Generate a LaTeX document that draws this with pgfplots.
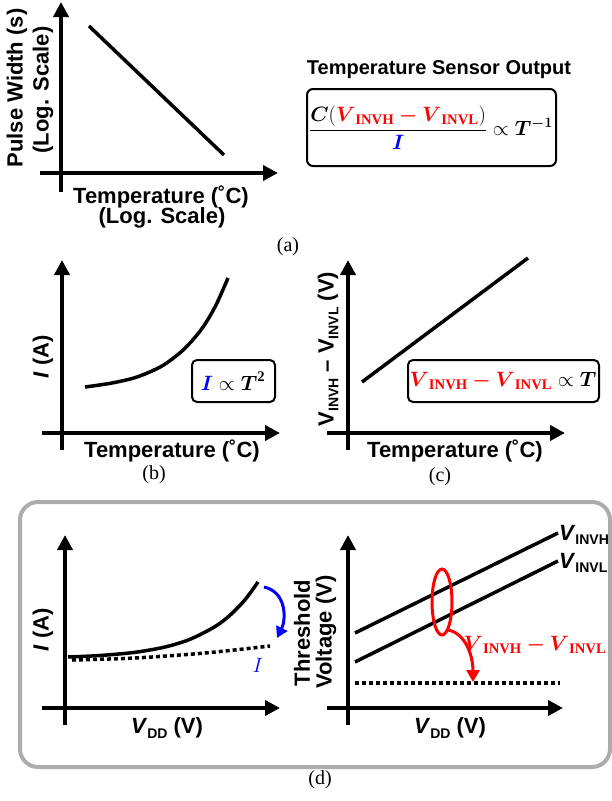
\documentclass[border=0pt]{standalone}
\usepackage{amsmath}
\usepackage{pgfplots}
\pgfplotsset{compat=1.18}
\usepackage{fontspec}
\usetikzlibrary{arrows.meta}
\setmainfont{Liberation Serif}
\newfontfamily\lab{Liberation Sans}
\newcommand\labf{\lab\bfseries\fontsize{22}{24}\selectfont}
\newcommand\sub[1]{\raisebox{-0.22em}{\fontsize{14}{14}\selectfont #1}}
\newcommand\bv{\boldsymbol{V}}
\newcommand\mf{\fontsize{21}{25}\selectfont}

\pgfplotsset{
  sch/.style={axis lines=middle, x=1pt, y=1pt, xtick=\empty, ytick=\empty,
    clip=false, anchor=south west, enlargelimits=false,
    axis line style={line width=4pt, -{Triangle[length=15pt,width=15pt]}}},
  crv/.style={line width=3.5pt, black, mark=none},
  dot/.style={line width=3.5pt, black, mark=none, dash pattern=on 4pt off 3pt},
}

\begin{document}
\begin{tikzpicture}[x=1pt,y=1pt]
\path[use as bounding box] (0,0) rectangle (612,-801);

% (a) pulse width vs temperature
\begin{axis}[sch, at={(40pt,-192pt)}, xmin=-21, xmax=217, ymin=-19, ymax=171]
\addplot[crv] coordinates {(28,147) (163,18)};
\end{axis}
\node[font=\labf, rotate=90] at (17,-88) {Pulse Width (s)};
\node[font=\labf, rotate=90] at (43,-90) {(Log. Scale)};
\node[font=\labf] at (161,-197) {Temperature (˚C)};
\node[font=\labf] at (162,-218) {(Log. Scale)};
\node[font=\lab\bfseries\fontsize{20}{22}\selectfont] at (439,-70) {Temperature Sensor Output};
\draw[line width=2pt, rounded corners=6pt] (307,-89) rectangle (556,-166);
\node[font=\mf] at (431,-128) {$\dfrac{\boldsymbol{C}(\color{red}\bv_{\mathbf{INVH}}\boldsymbol{-}\bv_{\mathbf{INVL}}\color{black})}{\color{blue}\boldsymbol{I}}\propto\boldsymbol{T}^{\boldsymbol{-1}}$};
\node[font=\fontsize{20}{22}\selectfont] at (288,-247) {(a)};

% (b) current vs temperature
\begin{axis}[sch, at={(42pt,-450pt)}, xmin=-20, xmax=218, ymin=-17, ymax=173]
\addplot[crv, smooth] coordinates {(23,46) (50,50) (75,56) (100,67) (120,82) (135,98) (145,112) (155,130) (166,155)};
\end{axis}
\node[font=\labf, rotate=90] at (43,-357) {\textit{I} (A)};
\node[font=\labf] at (172,-451) {Temperature (˚C)};
\draw[line width=2pt, rounded corners=5pt] (192,-360) rectangle (275,-402);
\node[font=\mf] at (233,-381) {$\color{blue}\boldsymbol{I}\color{black}\propto\boldsymbol{T}^{\mathbf{2}}$};
\node[font=\fontsize{20}{22}\selectfont] at (154,-475) {(b)};

% (c) VINVH - VINVL vs temperature
\begin{axis}[sch, at={(327pt,-450pt)}, xmin=-21, xmax=217, ymin=-17, ymax=173]
\addplot[crv] coordinates {(14,51) (180,175)};
\end{axis}
\node[font=\labf, rotate=90] at (328,-349) {V\sub{INVH} – V\sub{INVL} (V)};
\node[font=\labf] at (455,-451) {Temperature (˚C)};
\draw[line width=2pt, rounded corners=5pt] (408,-360) rectangle (599,-402);
\node[font=\mf] at (503,-381) {$\color{red}\bv_{\mathbf{INVH}}\boldsymbol{-}\bv_{\mathbf{INVL}}\color{black}\propto\boldsymbol{T}$};
\node[font=\fontsize{20}{22}\selectfont] at (440,-477) {(c)};

% (d) VDD dependence
\draw[gray!65, line width=4pt, rounded corners=18pt] (20,-502) rectangle (610,-767);
\begin{axis}[sch, at={(42pt,-725pt)}, xmin=-23, xmax=215, ymin=-17, ymax=173]
\addplot[crv, smooth] coordinates {(3,51) (35,52.5) (70,55.7) (100,61) (125,68.7) (150,81.4) (165,92.8) (180,108.2) (193,126)};
\addplot[dot, smooth] coordinates {(7,48) (70,50) (140,55) (205,62)};
\end{axis}
\draw[blue, line width=3pt, -{Triangle[length=11pt,width=12pt]}] (264,-587) .. controls (287,-592) and (286,-620) .. (277,-638);
\node[font=\mf, blue] at (258,-665) {$I$};
\node[font=\labf, rotate=90] at (43,-630) {\textit{I} (A)};
\node[font=\labf] at (167,-728) {\textit{V}\sub{DD} (V)};

\begin{axis}[sch, at={(327pt,-725pt)}, xmin=-21, xmax=215, ymin=-17, ymax=173]
\addplot[crv] coordinates {(7,75) (210,175)};
\addplot[crv] coordinates {(7,46) (210,147)};
\addplot[dot] coordinates {(7,25) (212,25)};
\end{axis}
\draw[red, line width=3pt] (442,-602) ellipse (10 and 33);
\draw[red, line width=3pt, -{Triangle[length=12pt,width=13pt]}] (448,-630) .. controls (465,-633) and (473,-655) .. (473,-682);
\node[font=\mf, red] at (535,-645) {$\bv_{\mathbf{INVH}}\boldsymbol{-}\bv_{\mathbf{INVL}}$};
\node[font=\labf, anchor=west, inner sep=1pt] at (558,-535) {\textit{V}\sub{INVH}};
\node[font=\labf, anchor=west, inner sep=1pt] at (558,-563) {\textit{V}\sub{INVL}};
\node[font=\labf, rotate=90] at (302,-633) {Threshold};
\node[font=\labf, rotate=90] at (326,-632) {Voltage (V)};
\node[font=\labf] at (450,-728) {\textit{V}\sub{DD} (V)};
\node[font=\fontsize{20}{22}\selectfont] at (320,-780) {(d)};
\end{tikzpicture}
\end{document}
